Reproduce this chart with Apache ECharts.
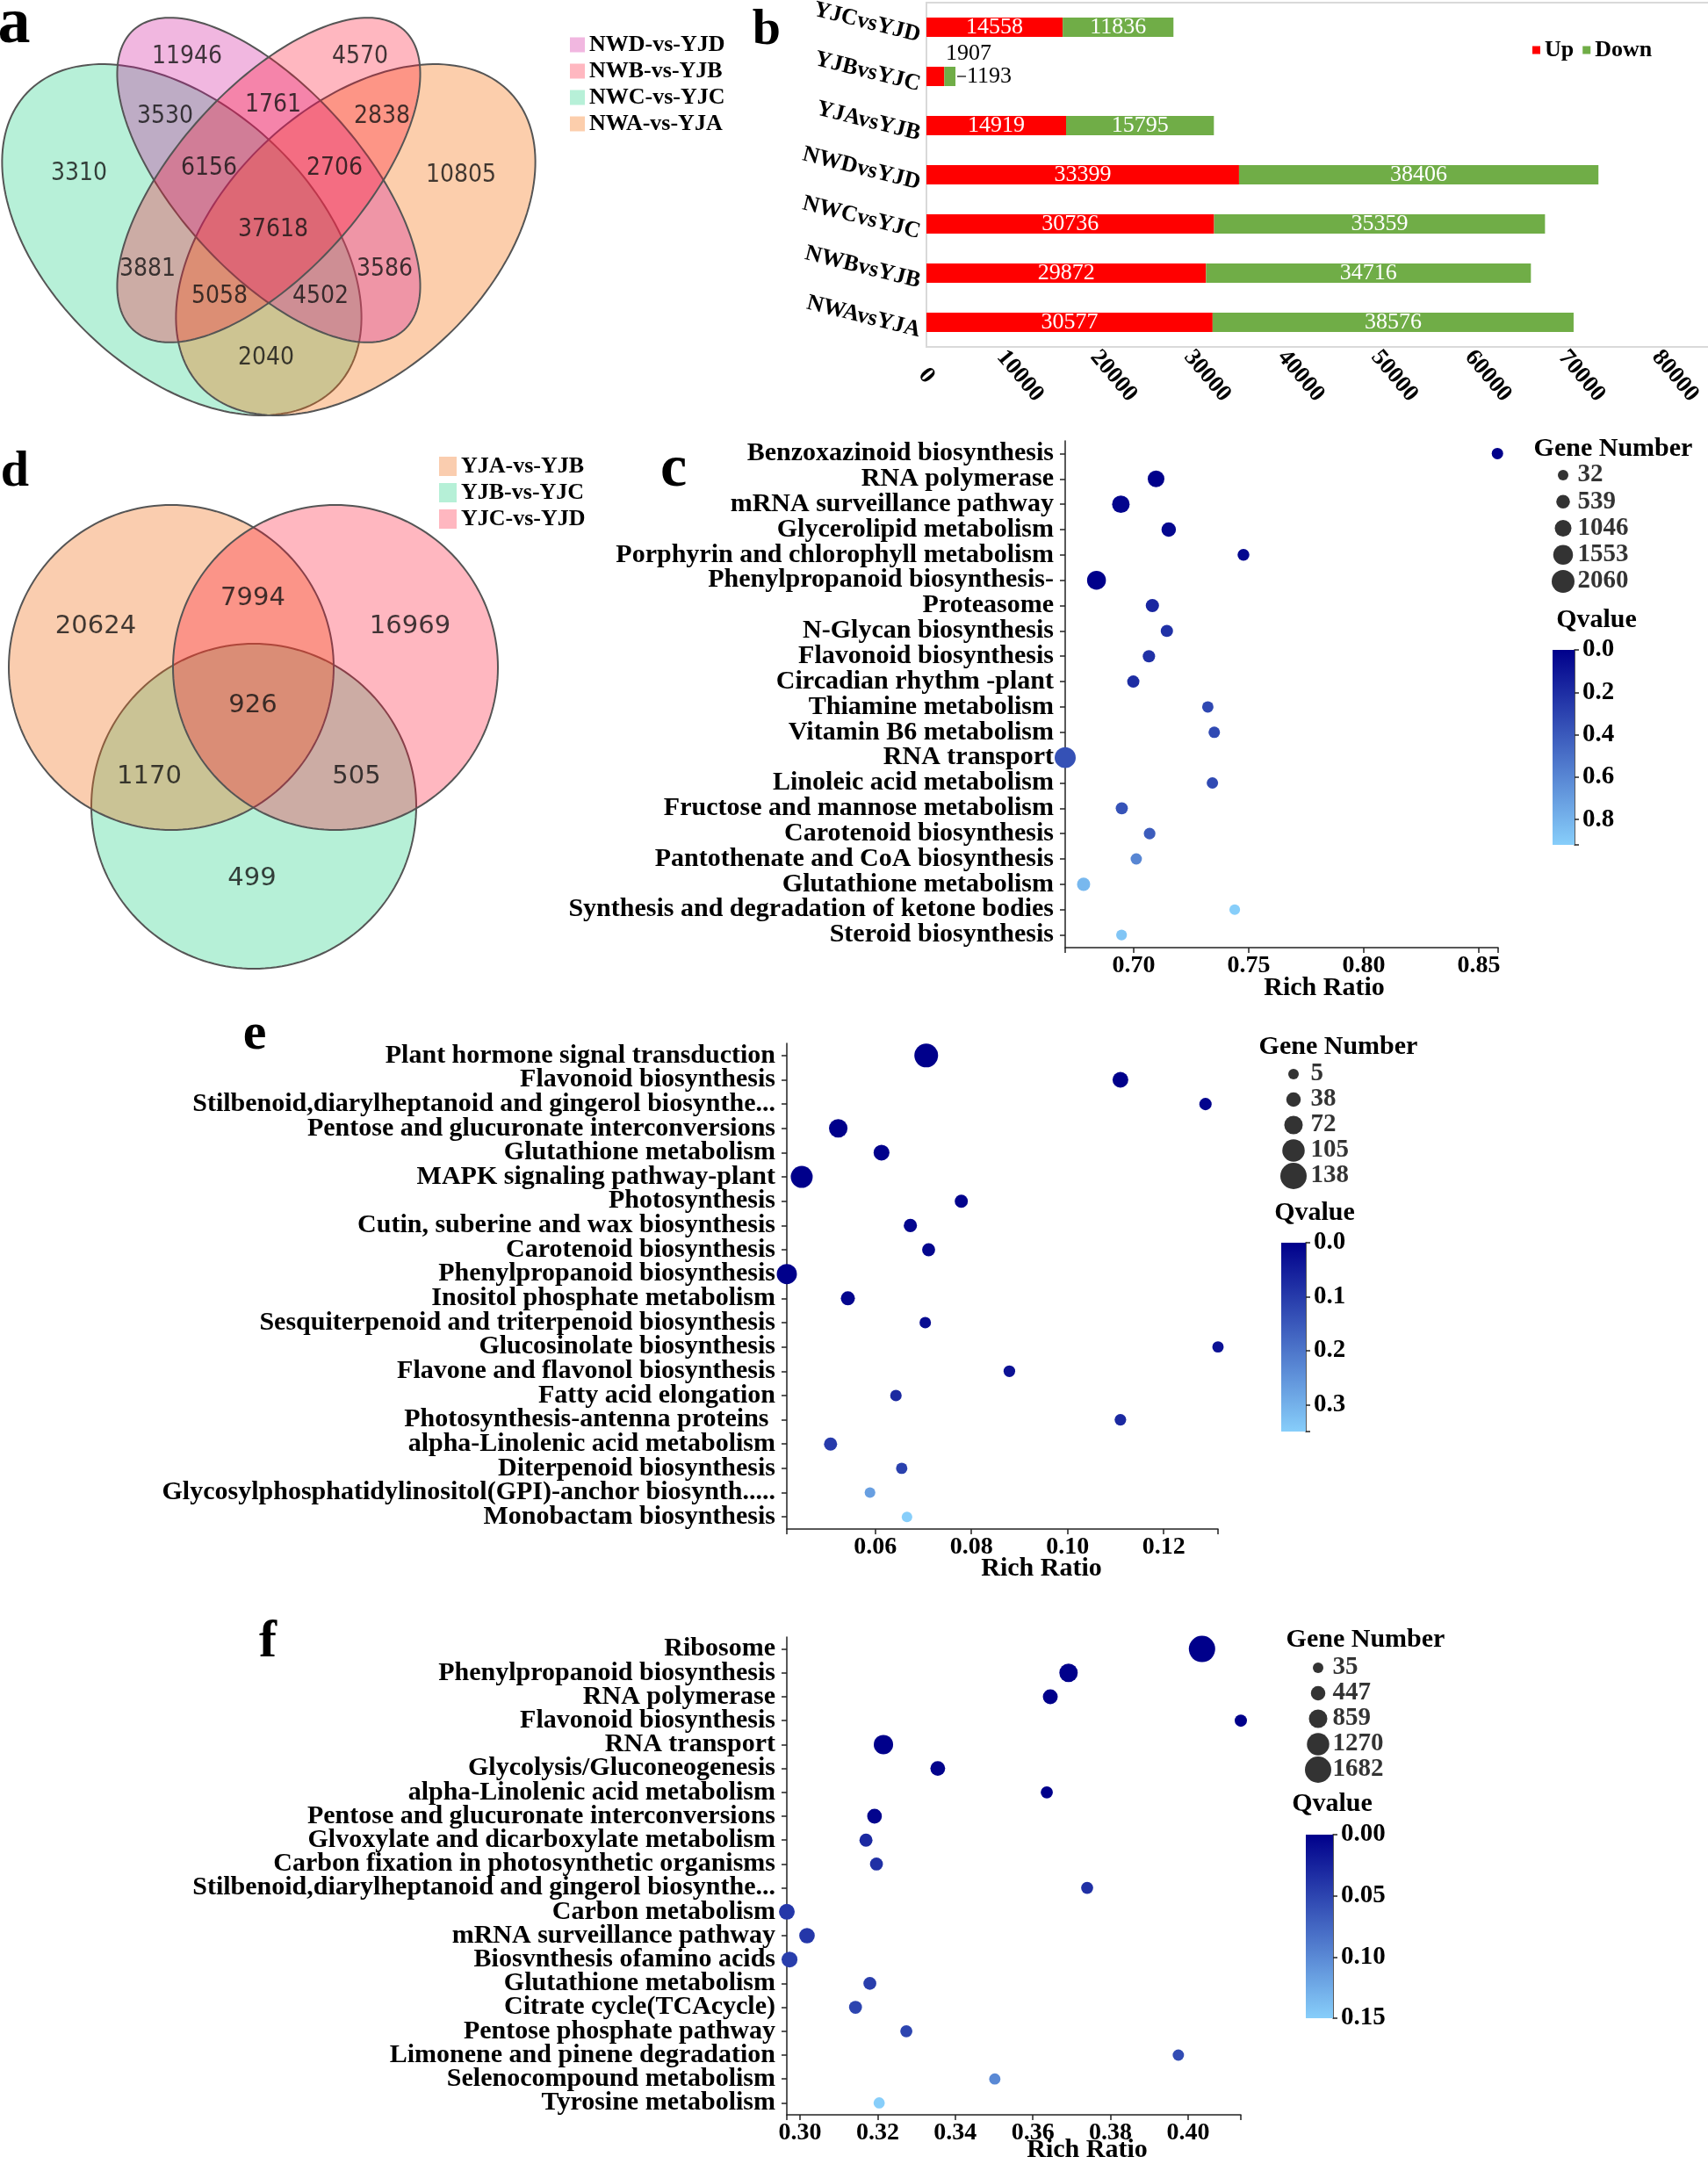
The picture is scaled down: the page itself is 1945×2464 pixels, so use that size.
<!DOCTYPE html>
<html>
<head>
<meta charset="utf-8">
<script src="https://cdn.jsdelivr.net/npm/echarts@6.0.0/dist/echarts.min.js"></script>
<style>
html,body{margin:0;padding:0;background:#ffffff;}
#chart{width:1945px;height:2464px;}
</style>
</head>
<body>
<div id="chart"></div>
<script>
const SERIF = "'Liberation Serif','Times New Roman',Times,serif";
const SANS_A = "'DejaVu Sans Condensed','DejaVu Sans',sans-serif";
const SANS_D = "'DejaVu Sans',sans-serif";

// ---------------- Panel a : four-set Venn ----------------
const vennASeries = ['NWC-vs-YJC','NWA-vs-YJA','NWD-vs-YJD','NWB-vs-YJB'];
const vennALegend = ['NWD-vs-YJD','NWB-vs-YJB','NWC-vs-YJC','NWA-vs-YJA'];
const vennAFill = ['rgba(111,225,177,0.5)','rgba(246,115,18,0.35)','rgba(208,18,152,0.3)','rgba(255,18,48,0.3)'];
// ellipse geometry [cx, cy, a, b, angle] in panel units
const vennAShape = [[207,273,243,151,43.5],[405,273,243,151,136.5],[306,205,230,105,48],[306,205,230,105,132]];
const vennACounts = [11946,4570,3530,1761,2838,3310,6156,2706,10805,37618,3881,3586,5058,4502,2040];
const vennAAnchor = [[213,65],[410,65],[188,133],[311,120],[435,133],[90,198],[238,192],[381,192],[525,200],[311,262],[168,307],[438,307],[250,338],[365,338],[303,408]];

// ---------------- Panel d : three-set Venn ----------------
const vennDSeries = ['YJB-vs-YJC','YJA-vs-YJB','YJC-vs-YJD'];
const vennDLegend = ['YJA-vs-YJB','YJB-vs-YJC','YJC-vs-YJD'];
const vennDFill = ['rgba(109,225,175,0.5)','rgba(241,112,26,0.35)','rgba(255,15,48,0.3)'];
const vennDShape = [[289,438,185,185,0],[195,280,185,185,0],[382,280,185,185,0]];
const vennDCounts = [20624,7994,16969,926,1170,505,499];
const vennDAnchor = [[109,233],[288,201],[467,233],[288,323],[170,404],[406,404],[287,520]];

// ---------------- Panel b : stacked bars ----------------
const bCats = ['YJCvsYJD','YJBvsYJC','YJAvsYJB','NWDvsYJD','NWCvsYJC','NWBvsYJB','NWAvsYJA'];
const bUp = [14558,1907,14919,33399,30736,29872,30577];
const bDown = [11836,1193,15795,38406,35359,34716,38576];

// ---------------- Panel c ----------------
const cCats = ['Benzoxazinoid biosynthesis','RNA polymerase','mRNA surveillance pathway','Glycerolipid metabolism','Porphyrin and chlorophyll metabolism','Phenylpropanoid biosynthesis-','Proteasome','N-Glycan biosynthesis','Flavonoid biosynthesis','Circadian rhythm -plant','Thiamine metabolism','Vitamin B6 metabolism','RNA transport','Linoleic acid metabolism','Fructose and mannose metabolism','Carotenoid biosynthesis','Pantothenate and CoA biosynthesis','Glutathione metabolism','Synthesis and degradation of ketone bodies','Steroid biosynthesis'];
const cRatio = [0.8581,0.7097,0.6944,0.7152,0.7477,0.6838,0.7081,0.7144,0.7066,0.6998,0.7322,0.7350,0.6702,0.7342,0.6948,0.7069,0.7011,0.6782,0.7439,0.6947];
const cGenes = [180,1046,1190,684,250,1408,480,320,330,310,170,190,1770,170,300,200,160,467,60,70];
const cQ = [0.0,0.0,0.02,0.03,0.03,0.0,0.17,0.22,0.22,0.2,0.32,0.33,0.36,0.33,0.37,0.41,0.6,0.82,0.92,0.88];
const cXTicks = [0.70,0.75,0.80,0.85];
const cLegendGenes = [32,539,1046,1553,2060];
const cQTicks = [0,0.2,0.4,0.6,0.8];

// ---------------- Panel e ----------------
const eCats = ['Plant hormone signal transduction','Flavonoid biosynthesis','Stilbenoid,diarylheptanoid and gingerol biosynthe...','Pentose and glucuronate interconversions','Glutathione metabolism','MAPK signaling pathway-plant','Photosynthesis','Cutin, suberine and wax biosynthesis','Carotenoid biosynthesis','Phenylpropanoid biosynthesis','Inositol phosphate metabolism','Sesquiterpenoid and triterpenoid biosynthesis','Glucosinolate biosynthesis','Flavone and flavonol biosynthesis','Fatty acid elongation','Photosynthesis-antenna proteins ','alpha-Linolenic acid metabolism','Diterpenoid biosynthesis','Glycosylphosphatidylinositol(GPI)-anchor biosynth.....','Monobactam biosynthesis'];
const eRatio = [0.0706,0.1110,0.1287,0.0523,0.0613,0.0447,0.0779,0.0673,0.0711,0.0416,0.0543,0.0704,0.1313,0.0879,0.0643,0.1110,0.0507,0.0655,0.0589,0.0666];
const eGenes = [116,49,20,72,50,101,27,28,26,86,35,13,12,14,13,14,27,12,6,5];
const eQ = [0,0,0.005,0,0.002,0,0.005,0.01,0.01,0,0.01,0.02,0.03,0.03,0.07,0.07,0.1,0.11,0.27,0.35];
const eXTicks = [0.06,0.08,0.10,0.12];
const eLegendGenes = [5,38,72,105,138];
const eQTicks = [0,0.1,0.2,0.3];

// ---------------- Panel f ----------------
const fCats = ['Ribosome','Phenylpropanoid biosynthesis','RNA polymerase','Flavonoid biosynthesis','RNA transport','Glycolysis/Gluconeogenesis','alpha-Linolenic acid metabolism','Pentose and glucuronate interconversions','Glvoxylate and dicarboxylate metabolism','Carbon fixation in photosynthetic organisms','Stilbenoid,diarylheptanoid and gingerol biosynthe...','Carbon metabolism','mRNA surveillance pathway','Biosvnthesis ofamino acids','Glutathione metabolism','Citrate cycle(TCAcycle)','Pentose phosphate pathway','Limonene and pinene degradation','Selenocompound metabolism','Tyrosine metabolism'];
const fRatio = [0.4036,0.3692,0.3645,0.4136,0.3215,0.3355,0.3636,0.3192,0.3170,0.3197,0.3740,0.2966,0.3018,0.2973,0.3180,0.3143,0.3274,0.3975,0.3502,0.3204];
const fGenes = [1682,860,490,210,950,480,200,470,300,290,190,580,560,590,280,290,200,120,110,100];
const fQ = [0,0,0,0,0,0.002,0,0.003,0.03,0.035,0.035,0.04,0.04,0.045,0.045,0.05,0.05,0.055,0.1,0.15];
const fXTicks = [0.30,0.32,0.34,0.36,0.38,0.40];
const fLegendGenes = [35,447,859,1270,1682];
const fQTicks = [0,0.05,0.10,0.15];

// ======================================================
const grids = [], xAxes = [], yAxes = [], series = [], visualMaps = [], legends = [], graphics = [];
function addGrid(g, xa, ya) {
  g.outerBoundsMode = 'none';
  grids.push(g);
  const gi = grids.length - 1;
  xa.gridIndex = gi; ya.gridIndex = gi;
  xAxes.push(xa); yAxes.push(ya);
  return gi;
}
function hiddenVal(min, max, inverse) { return {type:'value', min, max, inverse: !!inverse, show:false}; }

function ellipseRender(params, api) {
  const cx = api.value(0), cy = api.value(1), a = api.value(2), b = api.value(3);
  const ang = api.value(4) * Math.PI / 180;
  const pts = [];
  for (let k = 0; k < 180; k++) {
    const t = k / 180 * 2 * Math.PI;
    const x = cx + a * Math.cos(t) * Math.cos(ang) - b * Math.sin(t) * Math.sin(ang);
    const y = cy + a * Math.cos(t) * Math.sin(ang) + b * Math.sin(t) * Math.cos(ang);
    pts.push(api.coord([x, y]));
  }
  return {type:'polygon', shape:{points:pts}, style:{fill: api.visual('color'), stroke:'#555555', lineWidth:2}};
}

function venn(grid, w, h, names, fills, shapes, counts, anchors, font, fontSize) {
  const gi = addGrid(grid, hiddenVal(0, w), hiddenVal(0, h, true));
  names.forEach((n, i) => {
    series.push({type:'custom', name:n, xAxisIndex:gi, yAxisIndex:gi, silent:true, clip:false,
      itemStyle:{color:fills[i]}, renderItem:ellipseRender, data:[shapes[i]]});
  });
  series.push({type:'scatter', xAxisIndex:gi, yAxisIndex:gi, silent:true, symbolSize:1,
    itemStyle:{color:'rgba(0,0,0,0)'},
    data: anchors.map((p, i) => [p[0], p[1], counts[i]]),
    label:{show:true, position:'inside', formatter: p => String(p.value[2]), color:'#111', fontFamily:font, fontSize:fontSize}});
}

venn({left:0, top:0, width:640, height:480}, 640, 480, vennASeries, vennAFill, vennAShape, vennACounts, vennAAnchor, SANS_A, 28);
legends.push({data:vennALegend, orient:'vertical', left:644, top:33, itemWidth:17, itemHeight:17, itemGap:4, icon:'rect', selectedMode:false,
  textStyle:{fontFamily:SERIF, fontWeight:'bold', fontSize:26, color:'#000'}});

venn({left:0, top:480, width:700, height:640}, 700, 640, vennDSeries, vennDFill, vennDShape, vennDCounts, vennDAnchor, SANS_D, 29);
legends.push({data:vennDLegend, orient:'vertical', left:495, top:513, itemWidth:20, itemHeight:22, itemGap:4, icon:'rect', selectedMode:false,
  textStyle:{fontFamily:SERIF, fontWeight:'bold', fontSize:26, color:'#000'}});

// ---------------- Panel b ----------------
const gB = addGrid({left:1055, top:3, width:892, height:392, show:true, borderColor:'#d9d9d9', borderWidth:2},
  {type:'value', min:0, max:83700, interval:10000,
   axisLine:{show:true, onZero:false, lineStyle:{color:'#d9d9d9', width:2}}, axisTick:{show:false}, splitLine:{show:false},
   axisLabel:{rotate:-50, margin:33, align:'center', verticalAlign:'middle', color:'#000', fontFamily:SERIF, fontWeight:'bold', fontSize:27,
     formatter: v => (v % 10000 === 0 ? String(v) : '')}},
  {type:'category', data:bCats, inverse:true,
   axisLine:{show:true, lineStyle:{color:'#d9d9d9', width:2}}, axisTick:{show:false},
   axisLabel:{interval:0, rotate:-14, margin:5, verticalAlign:'top', lineHeight:20, color:'#000', fontFamily:SERIF, fontWeight:'bold', fontSize:26}});
series.push({type:'bar', name:'Up', stack:'b', xAxisIndex:gB, yAxisIndex:gB, barWidth:22,
  itemStyle:{color:'#FF0000'},
  label:{show:true, position:'inside', color:'#fff', fontFamily:SERIF, fontSize:26},
  data: bUp.map((v, i) => i === 1 ? {value:v, label:{position:[22,-28], color:'#000'}} : v)});
series.push({type:'bar', name:'Down', stack:'b', xAxisIndex:gB, yAxisIndex:gB, barWidth:22,
  itemStyle:{color:'#70AD47'},
  label:{show:true, position:'inside', color:'#fff', fontFamily:SERIF, fontSize:26},
  data: bDown.map((v, i) => i === 1 ? {value:v, label:{position:'right', distance:2, formatter:'{l| }{v|{c}}',
    rich:{l:{width:10, height:2, backgroundColor:'#666', verticalAlign:'middle'}, v:{color:'#000', fontFamily:SERIF, fontSize:26, padding:[0,0,0,1]}}}} : v)});
legends.push({data:['Up','Down'], left:1740, top:39, itemWidth:9, itemHeight:9, itemGap:10, icon:'rect', selectedMode:false,
  textStyle:{fontFamily:SERIF, fontWeight:'bold', fontSize:26, color:'#000'}});

// ---------------- bubble panels ----------------
const AX = {color:'#222', width:1.5};
function bubble(cfg) {
  const gi = addGrid({left:cfg.left, top:cfg.top, width:cfg.width, height:cfg.height},
    {type:'value', min:cfg.xmin, max:cfg.xmax, splitLine:{show:false},
     axisLine:{show:true, onZero:false, lineStyle:AX},
     axisTick:{show:true, length:6, lineStyle:AX, customValues:[cfg.xmin].concat(cfg.xticks, [cfg.xmax])},
     axisLabel:{customValues:cfg.xticks, showMinLabel:true, showMaxLabel:true, formatter: v => v.toFixed(2), margin:7, color:'#000', fontFamily:SERIF, fontWeight:'bold', fontSize:28}},
    {type:'category', data:cfg.cats, inverse:true, boundaryGap:true, splitLine:{show:false},
     axisLine:{show:true, onZero:false, lineStyle:AX},
     axisTick:{show:true, alignWithLabel:true, interval:0, length:6, lineStyle:AX},
     axisLabel:{interval:0, margin:13, color:'#000', fontFamily:SERIF, fontWeight:'bold', fontSize:30}});
  series.push({type:'scatter', xAxisIndex:gi, yAxisIndex:gi, clip:false, silent:true,
    data: cfg.cats.map((c, i) => [cfg.ratio[i], i, cfg.genes[i], cfg.q[i]]),
    symbolSize: v => cfg.size(v[2]), itemStyle:{opacity:1}});
  visualMaps.push({type:'continuous', show:false, seriesIndex:series.length - 1, dimension:3, min:0, max:cfg.qmax,
    inRange:{color:['#00008B','#87CEFA']}});
  // colour bar
  const gq = addGrid({left:cfg.qLeft, top:cfg.qTop, width:cfg.qW, height:cfg.qH},
    {type:'category', data:['Q'], show:false},
    {type:'value', inverse:true, min:0, max:cfg.qmax, position:'right', splitLine:{show:false},
     axisLine:{show:true, onZero:false, lineStyle:AX},
     axisTick:{show:true, length:5, lineStyle:AX, customValues:cfg.qticks.concat([cfg.qmax])},
     axisLabel:{customValues:cfg.qticks, showMinLabel:true, showMaxLabel:true, formatter: v => v.toFixed(cfg.qdec), margin:9, color:'#000', fontFamily:SERIF, fontWeight:'bold', fontSize:29}});
  series.push({type:'bar', xAxisIndex:gq, yAxisIndex:gq, silent:true, barWidth:'100%', data:[cfg.qmax],
    itemStyle:{color:new echarts.graphic.LinearGradient(0,0,0,1,[{offset:0,color:'#00008B'},{offset:1,color:'#87CEFA'}])}});
  // gene number legend
  const gl = addGrid({left:cfg.lLeft, top:cfg.lTop, width:cfg.lW, height:cfg.lH}, hiddenVal(0,1), hiddenVal(0,4,true));
  series.push({type:'scatter', xAxisIndex:gl, yAxisIndex:gl, clip:false, silent:true,
    data: cfg.legend.map((g, i) => [0, i, g]), symbolSize: v => cfg.size(v[2]), itemStyle:{color:'#000'}});
  series.push({type:'scatter', xAxisIndex:gl, yAxisIndex:gl, clip:false, silent:true, symbolSize:1,
    itemStyle:{color:'rgba(0,0,0,0)'},
    data: cfg.legend.map((g, i) => [1, i, g]),
    label:{show:true, position:'right', distance:0, formatter: p => String(p.value[2]), color:'#000', fontFamily:SERIF, fontWeight:'bold', fontSize:29}});
}

bubble({cats:cCats, ratio:cRatio, genes:cGenes, q:cQ, xticks:cXTicks, xmin:0.6702, xmax:0.8584,
  left:1213, top:502, width:493, height:577, size: n => 12 + (n - 32) / 2028 * 14,
  qmax:0.92, qticks:cQTicks, qdec:1, qLeft:1768, qTop:740, qW:25, qH:222,
  legend:cLegendGenes, lLeft:1780, lTop:541, lW:16, lH:121});
bubble({cats:eCats, ratio:eRatio, genes:eGenes, q:eQ, xticks:eXTicks, xmin:0.0416, xmax:0.1313,
  left:896, top:1188, width:491, height:553, size: n => 12 + (n - 5) / 133 * 18,
  qmax:0.35, qticks:eQTicks, qdec:1, qLeft:1459, qTop:1415, qW:28, qH:215,
  legend:eLegendGenes, lLeft:1473, lTop:1223, lW:19, lH:116});
bubble({cats:fCats, ratio:fRatio, genes:fGenes, q:fQ, xticks:fXTicks, xmin:0.2966, xmax:0.4136,
  left:896, top:1864, width:517, height:544, size: n => 12 + (n - 35) / 1647 * 18,
  qmax:0.15, qticks:fQTicks, qdec:2, qLeft:1487, qTop:2089, qW:31, qH:209,
  legend:fLegendGenes, lLeft:1501, lTop:1899, lW:16, lH:116});

// ---------------- texts ----------------
function txt(x, y, t, size) {
  graphics.push({type:'text', x:x, y:y, silent:true,
    style:{text:t, fill:'#000', font:'bold ' + size + 'px ' + SERIF, align:'center', verticalAlign:'middle', textAlign:'center', textVerticalAlign:'middle'}});
}
txt(16, 29, 'a', 74);
txt(873, 35, 'b', 58);
txt(17, 538, 'd', 58);
txt(767, 535, 'c', 68);
txt(290, 1178, 'e', 60);
txt(305, 1870, 'f', 60);
txt(1837, 511, 'Gene Number', 30);
txt(1818, 706, 'Qvalue', 30);
txt(1508, 1125, 'Rich Ratio', 30);
txt(1524, 1192, 'Gene Number', 30);
txt(1497, 1381, 'Qvalue', 30);
txt(1186, 1786, 'Rich Ratio', 30);
txt(1555, 1867, 'Gene Number', 30);
txt(1517, 2054, 'Qvalue', 30);
txt(1238, 2448, 'Rich Ratio', 30);

const chart = echarts.init(document.getElementById('chart'), null, {renderer:'canvas', width:1945, height:2464});
chart.setOption({
  animation:false,
  backgroundColor:'#ffffff',
  grid:grids, xAxis:xAxes, yAxis:yAxes,
  series:series, visualMap:visualMaps, legend:legends,
  graphic:{elements:graphics}
});
</script>
</body>
</html>
